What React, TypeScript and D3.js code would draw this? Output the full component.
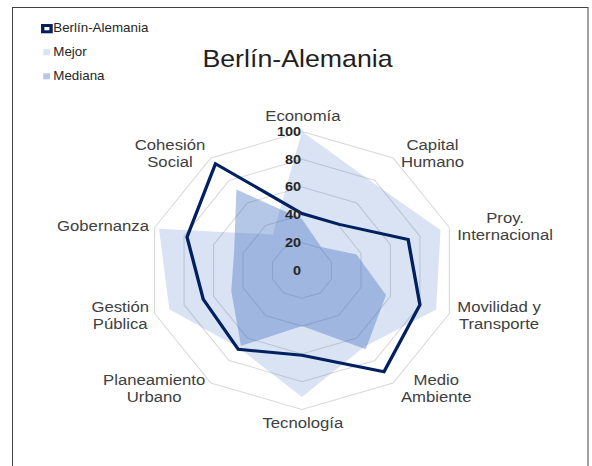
import React, { useMemo } from "react";
import * as d3 from "d3";

const categories = [
  "Economía",
  "Capital\nHumano",
  "Proy.\nInternacional",
  "Movilidad y\nTransporte",
  "Medio\nAmbiente",
  "Tecnología",
  "Planeamiento\nUrbano",
  "Gestión\nPública",
  "Gobernanza",
  "Cohesión\nSocial",
];
const berlin = [41, 41, 72, 80, 90, 61, 70, 67, 78, 95];
const mejor = [100, 78, 94, 91, 68, 91, 69, 90, 97, 32];
const mediana = [37, 21, 37, 57, 70, 40, 67, 48, 46, 72];
const ticks = [0, 20, 40, 60, 80, 100];
const seriesNames = ["Berlín-Alemania", "Mejor", "Mediana"];
const title = "Berlín-Alemania";

const W = 592;
const H = 466;
const SX = 1.115;
const CX = 302 / SX;
const CY = 270.5;
const R = 139;
const FONT = "'Liberation Sans', Arial, sans-serif";
const BLUE = "#4472C4";
const NAVY = "#002060";

function measure(text: string, size: number): number {
  if (typeof document === "undefined") return text.length * size * 0.55;
  const c = document.createElement("canvas");
  const ctx = c.getContext("2d");
  if (!ctx) return text.length * size * 0.55;
  ctx.font = `${size}px 'Liberation Sans', Arial, sans-serif`;
  return ctx.measureText(text).width;
}

export default function App() {
  const n = categories.length;
  const r = d3.scaleLinear().domain([0, 100]).range([0, R]);
  const ang = d3.scaleLinear().domain([0, n]).range([0, 2 * Math.PI]);
  const radial = d3
    .lineRadial<number>()
    .angle((_d, i) => ang(i))
    .radius((d) => r(d))
    .curve(d3.curveLinearClosed);

  const labels = useMemo(() => {
    const lh = 17.3;
    return categories.map((cat, i) => {
      const lines = cat.split("\n");
      const a = ang(i);
      const s = Math.sin(a);
      const c = Math.cos(a);
      const vx = CX + r(100) * s;
      const vy = CY - r(100) * c;
      if (Math.abs(s) < 1e-6) {
        const y = c > 0 ? vy - 10.5 : vy + 18.5;
        return { x: CX + 0.8, ys: [y], lines };
      }
      const w = Math.max(...lines.map((l) => measure(l, 15)));
      const gap = s > 0 ? 7 : 5;
      const x = vx + Math.sign(s) * (gap + w / 2);
      const yc = vy - c * 6 + 1.5;
      const y0 = yc - ((lines.length - 1) * lh) / 2 + 4;
      return { x, ys: lines.map((_l, k) => y0 + k * lh), lines };
    });
  }, []);

  return (
    <svg
      width={W}
      height={H}
      style={{ position: "absolute", left: 0, top: 0, background: "#fff" }}
      fontFamily={FONT}
    >
      <rect x={0} y={0} width={W} height={H} fill="#fff" />
      <rect x={12.5} y={7.5} width={575.5} height={470} fill="none" stroke="#404040" strokeWidth={1} />
      <g transform={`scale(${SX},1)`}>
        <text x={CX - 4} y={67} textAnchor="middle" fontSize={24} fill="#1f1f1f">
          {title}
        </text>
        <g fontSize={12} fill="#262626">
          <rect x={38.3} y={25.5} width={7.5} height={6.3} fill="#fff" stroke={NAVY} strokeWidth={3} />
          <text x={47.8} y={32.3}>{seriesNames[0]}</text>
          <rect x={38.8} y={49.3} width={6} height={6} fill={BLUE} fillOpacity={0.2} />
          <text x={47.8} y={55.7}>{seriesNames[1]}</text>
          <rect x={38.8} y={73.3} width={6} height={6} fill={BLUE} fillOpacity={0.4} />
          <text x={47.8} y={80}>{seriesNames[2]}</text>
        </g>
        <g transform={`translate(${CX},${CY})`}>
          {ticks
            .filter((t) => t > 0)
            .map((t) => (
              <path
                key={t}
                d={radial(new Array(n).fill(t)) || ""}
                fill="none"
                stroke="#d9d9d9"
                strokeWidth={1}
              />
            ))}
          <path d={radial(mejor) || ""} fill={BLUE} fillOpacity={0.2} stroke="none" />
          <path d={radial(mediana) || ""} fill={BLUE} fillOpacity={0.4} stroke="none" />
          <path
            d={radial(berlin) || ""}
            fill="none"
            stroke={NAVY}
            strokeWidth={3}
            strokeLinejoin="miter"
          />
          {ticks.map((t) => (
            <text
              key={t}
              x={-0.8}
              y={-r(t)}
              textAnchor="end"
              dominantBaseline="central"
              fontSize={13}
              fontWeight="bold"
              fill="#262626"
            >
              {t}
            </text>
          ))}
        </g>
        <g fontSize={15} fill="#404040">
          {labels.map((lb, i) => (
            <text key={i} textAnchor="middle">
              {lb.lines.map((l, k) => (
                <tspan key={k} x={lb.x} y={lb.ys[k]}>
                  {l}
                </tspan>
              ))}
            </text>
          ))}
        </g>
      </g>
    </svg>
  );
}
